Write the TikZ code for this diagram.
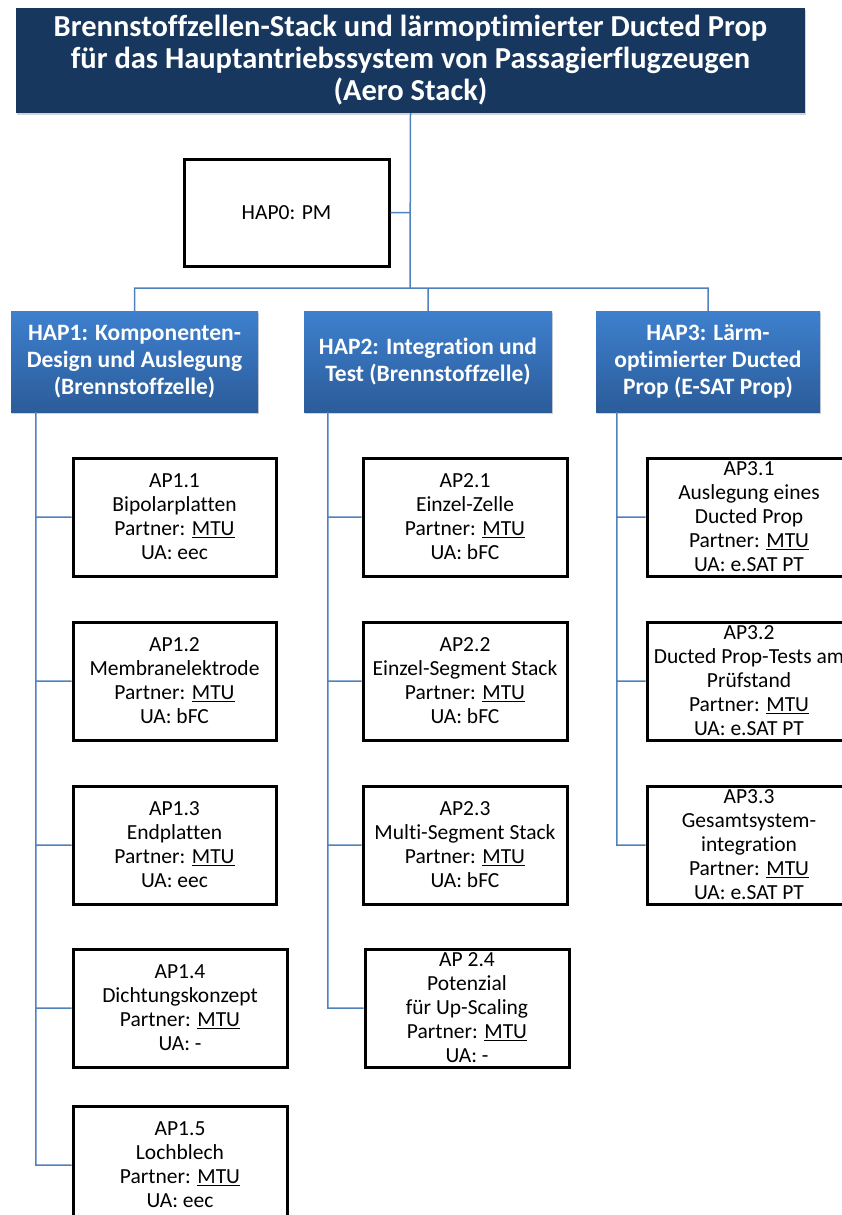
\documentclass[tikz,border=0pt]{standalone}
\usepackage{fontspec}
\setmainfont[Ligatures=NoCommon]{Carlito}
\usetikzlibrary{positioning,shadows}

\definecolor{navy}{RGB}{23,55,94}
\definecolor{haptop}{RGB}{62,128,206}
\definecolor{hapbot}{RGB}{43,92,154}
\definecolor{linkblue}{RGB}{79,129,189}

\tikzset{
    titlebox/.style = {fill=navy, text=white, align=center, inner sep=0pt,
        font=\bfseries\fontsize{30.5}{32}\selectfont,
        drop shadow={shadow xshift=1pt, shadow yshift=-2pt, opacity=0.35}},
    hapbox/.style   = {top color=haptop, bottom color=hapbot, text=white, align=center,
        inner sep=0pt, minimum height=101pt,
        font=\bfseries\fontsize{23.5}{27}\selectfont,
        drop shadow={shadow xshift=1pt, shadow yshift=-2pt, opacity=0.35}},
    apbox/.style    = {draw, line width=3pt, fill=white, align=center, inner sep=0pt,
        minimum width=204pt, minimum height=118pt,
        font=\fontsize{21.5}{24}\selectfont},
    link/.style     = {draw=linkblue, line width=1.5pt}
}

\begin{document}
\begin{tikzpicture}[x=1pt, y=-1pt]
                \useasboundingbox (0,0) rectangle (842,1215);

                % top
                \node[titlebox, minimum width=789pt, minimum height=105pt] (title) at (410.5,60.5)
                    {Brennstoffzellen-Stack und lärmoptimierter Ducted Prop\\
                     für das Hauptantriebssystem von Passagierflugzeugen\\
                     (Aero Stack)};
                \node[apbox, minimum width=205pt, minimum height=107pt] (hap_0) at (286.5,212.5) {HAP0: PM};
                \coordinate (fork) at (410,288);

                % main work packages
                \node[hapbox, minimum width=247pt] (hap_1) at (134.5,361.5)
                    {HAP1: Komponenten-\\Design und Auslegung\\(Brennstoffzelle)};
                \node[hapbox, minimum width=248pt] (hap_2) at (428,361.5)
                    {HAP2: Integration und\\Test (Brennstoffzelle)};
                \node[hapbox, minimum width=224pt] (hap_3) at (708,361.5)
                    {HAP3: Lärm-\\optimierter Ducted\\Prop (E-SAT Prop)};

                % HAP1
                \node[apbox, minimum width=203pt] (ap_1_1) at (174.5,517)
                    {AP1.1\\Bipolarplatten\\Partner: \underline{MTU}\\UA: eec};
                \node[apbox, minimum width=203pt] (ap_1_2) at (174.5,681)
                    {AP1.2\\Membranelektrode\\Partner: \underline{MTU}\\UA: bFC};
                \node[apbox, minimum width=203pt] (ap_1_3) at (174.5,845)
                    {AP1.3\\Endplatten\\Partner: \underline{MTU}\\UA: eec};
                \node[apbox, minimum width=214pt] (ap_1_4) at (180,1008)
                    {AP1.4\\Dichtungskonzept\\Partner: \underline{MTU}\\UA: -};
                \node[apbox, minimum width=214pt] (ap_1_5) at (180,1165)
                    {AP1.5\\Lochblech\\Partner: \underline{MTU}\\UA: eec};

                % HAP2
                \node[apbox] (ap_2_1) at (465,517)
                    {AP2.1\\Einzel-Zelle\\Partner: \underline{MTU}\\UA: bFC};
                \node[apbox] (ap_2_2) at (465,681)
                    {AP2.2\\Einzel-Segment Stack\\Partner: \underline{MTU}\\UA: bFC};
                \node[apbox] (ap_2_3) at (465,845)
                    {AP2.3\\Multi-Segment Stack\\Partner: \underline{MTU}\\UA: bFC};
                \node[apbox] (ap_2_4) at (467,1008)
                    {AP 2.4\\Potenzial\\für Up-Scaling\\Partner: \underline{MTU}\\UA: -};

                % HAP3
                \node[apbox] (ap_3_1) at (749,517)
                    {AP3.1\\Auslegung eines\\Ducted Prop\\Partner: \underline{MTU}\\UA: e.SAT PT};
                \node[apbox] (ap_3_2) at (749,681)
                    {AP3.2\\Ducted Prop-Tests am\\Prüfstand\\Partner: \underline{MTU}\\UA: e.SAT PT};
                \node[apbox] (ap_3_3) at (749,845)
                    {AP3.3\\Gesamtsystem-\\integration\\Partner: \underline{MTU}\\UA: e.SAT PT};

                \coordinate (spine_1) at ([xshift=25pt]hap_1.south west);
                \coordinate (spine_2) at ([xshift=24pt]hap_2.south west);
                \coordinate (spine_3) at ([xshift=21pt]hap_3.south west);

                \draw[link]
                    (title.south) -- (fork)
                    (hap_0.east) -- (hap_0.east -| fork)
                    (hap_1.north) |- (hap_3.north |- fork) -- (hap_3.north)
                    (hap_2.north) -- (hap_2.north |- fork)
                    (spine_1) |- (ap_1_5.west)
                    (spine_2) |- (ap_2_4.west)
                    (spine_3) |- (ap_3_3.west)
                    (ap_1_1.west -| spine_1) -- (ap_1_1.west)
                    (ap_1_2.west -| spine_1) -- (ap_1_2.west)
                    (ap_1_3.west -| spine_1) -- (ap_1_3.west)
                    (ap_1_4.west -| spine_1) -- (ap_1_4.west)
                    (ap_2_1.west -| spine_2) -- (ap_2_1.west)
                    (ap_2_2.west -| spine_2) -- (ap_2_2.west)
                    (ap_2_3.west -| spine_2) -- (ap_2_3.west)
                    (ap_3_1.west -| spine_3) -- (ap_3_1.west)
                    (ap_3_2.west -| spine_3) -- (ap_3_2.west)
                    ;
            \end{tikzpicture}
\end{document}
